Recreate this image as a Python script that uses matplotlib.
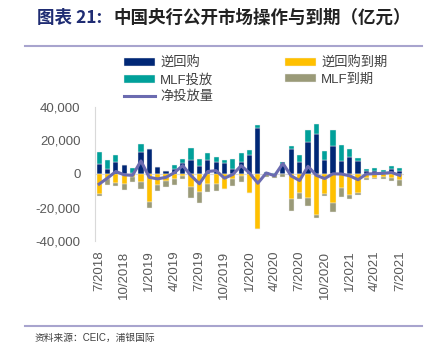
import matplotlib
matplotlib.use("Agg")
import matplotlib.pyplot as plt
from matplotlib.lines import Line2D
import numpy as np

plt.rcParams['font.family'] = ['Liberation Sans', 'Noto Sans CJK SC']

# 月份 7/2018 - 7/2021
meses = [f"{(6 + i) % 12 + 1}/{2018 + (6 + i) // 12}" for i in range(37)]

# 单位：亿元
ni_huigou = [5900, 2900, 7300, 5300, 300, 13100, 14700, 3900, 2000, 2700, 6300, 8200, 4900,
             8200, 7400, 6300, 2900, 6900, 11200, 27200, 300, 0, 5700, 15100, 7300, 19000,
             23900, 8600, 16700, 7800, 10200, 7600, 2000, 2000, 1400, 2700, 2000]
mlf_toufang = [7200, 5300, 4300, 0, 3300, 5100, 0, 0, 0, 2400, 2500, 7500, 4300,
               4500, 2800, 1900, 6300, 5800, 2900, 2000, 1100, 500, 1600, 1600, 3900, 7300,
               5900, 4900, 9800, 9600, 4900, 2200, 900, 1300, 1000, 2000, 1300]
ni_huigou_daoqi = [11800, 2900, 5300, 5900, 2000, 4900, 17000, 6500, 3900, 2900, 1400, 7800, 10800,
                   5900, 5900, 8800, 2900, 1000, 11200, 32700, 0, 0, 0, 15100, 11200, 14500,
                   24300, 11800, 17100, 8400, 12400, 11200, 2500, 2200, 2000, 2500, 3500]
mlf_daoqi = [1500, 3600, 1600, 3900, 2500, 4300, 3200, 3900, 3900, 3600, 1500, 6500, 6300,
             4900, 4300, 0, 4000, 3900, 0, 0, 1500, 2300, 1600, 7000, 3500, 4900,
             2000, 1300, 5400, 5300, 2300, 1500, 1200, 900, 1100, 1600, 3900]
jing_toufang = [-6000, -2400, 1500, -500, -800, 7800, -2000, -2900, -2000, 800, 5000, -1000, -5800,
                1500, 2000, -2500, -300, 5000, 600, -5500, 600, -1000, 6300, -1200, -3900, 4600,
                -800, -2700, 100, 0, -1100, -3400, 0, 200, 400, 900, -800]

x = np.arange(len(meses))
rr = np.array(ni_huigou)
mlf = np.array(mlf_toufang)
rre = -np.array(ni_huigou_daoqi)
mlfe = -np.array(mlf_daoqi)

fig = plt.figure(figsize=(4.32, 3.5), dpi=100)
ax = fig.add_axes([95 / 432, 1 - 241 / 350, 309 / 432, 134 / 350])

w = 0.62
borda = dict(edgecolor='#eeeeee', linewidth=0.3)
b1 = ax.bar(x, rr, w, color='#002776', label='逆回购', **borda)
b2 = ax.bar(x, mlf, w, bottom=rr, color='#00A09A', label='MLF投放', **borda)
b3 = ax.bar(x, rre, w, color='#FFC000', label='逆回购到期', **borda)
b4 = ax.bar(x, mlfe, w, bottom=rre, color='#9A9A78', label='MLF到期', **borda)
l1, = ax.plot(x, jing_toufang, color='#6B6BB0', linewidth=2.2, label='净投放量')

ax.axhline(0, color='#D9D9D9', linewidth=0.8, zorder=0)

ax.set_xlim(-0.5, len(meses) - 0.5)
ax.set_ylim(-40000, 40000)
ax.set_yticks([-40000, -20000, 0, 20000, 40000])
ax.set_yticklabels([f"{v:,}" for v in [-40000, -20000, 0, 20000, 40000]])
ax.set_xticks(x[::3])
ax.set_xticklabels(meses[::3], rotation=90)
ax.tick_params(axis='y', length=0, pad=10.5, labelsize=9.5, labelcolor='#595959')
ax.tick_params(axis='x', length=0, pad=7, labelsize=9.5, labelcolor='#595959')
for lado in ['top', 'right', 'bottom']:
    ax.spines[lado].set_visible(False)
ax.spines['left'].set_color('#D9D9D9')

fig.legend([b1, b2, l1, b3, b4], ['逆回购', 'MLF投放', '净投放量', '逆回购到期', 'MLF到期'],
           ncol=2, loc='upper left', bbox_to_anchor=(124 / 432, 1 - 57 / 350),
           frameon=False, fontsize=9.5, handlelength=2.35, handleheight=0.55,
           handletextpad=0.4, labelspacing=0.3, columnspacing=5.4,
           borderpad=0, borderaxespad=0, labelcolor='#404040')

# titulo
fig.text(37 / 432, 1 - 18 / 350, '图表 21:', fontsize=12.6, fontweight='bold',
         color='#1F2C73', va='center', family=['Noto Sans CJK SC'])
fig.text(113 / 432, 1 - 18 / 350, '中国央行公开市场操作与到期（亿元）', fontsize=12.6,
         fontweight='bold', color='#222222', va='center', family=['Noto Sans CJK SC'])

fig.add_artist(Line2D([25 / 432, 422 / 432], [1 - 46 / 350, 1 - 46 / 350], color='#A8A4CE', linewidth=1.5))
fig.add_artist(Line2D([25 / 432, 422 / 432], [1 - 326 / 350, 1 - 326 / 350], color='#A8A4CE', linewidth=1.5))

fig.text(35 / 432, 1 - 338 / 350, '资料来源：CEIC，浦银国际', fontsize=7, color='#404040', va='center')

fig.savefig('out.png', dpi=100)
